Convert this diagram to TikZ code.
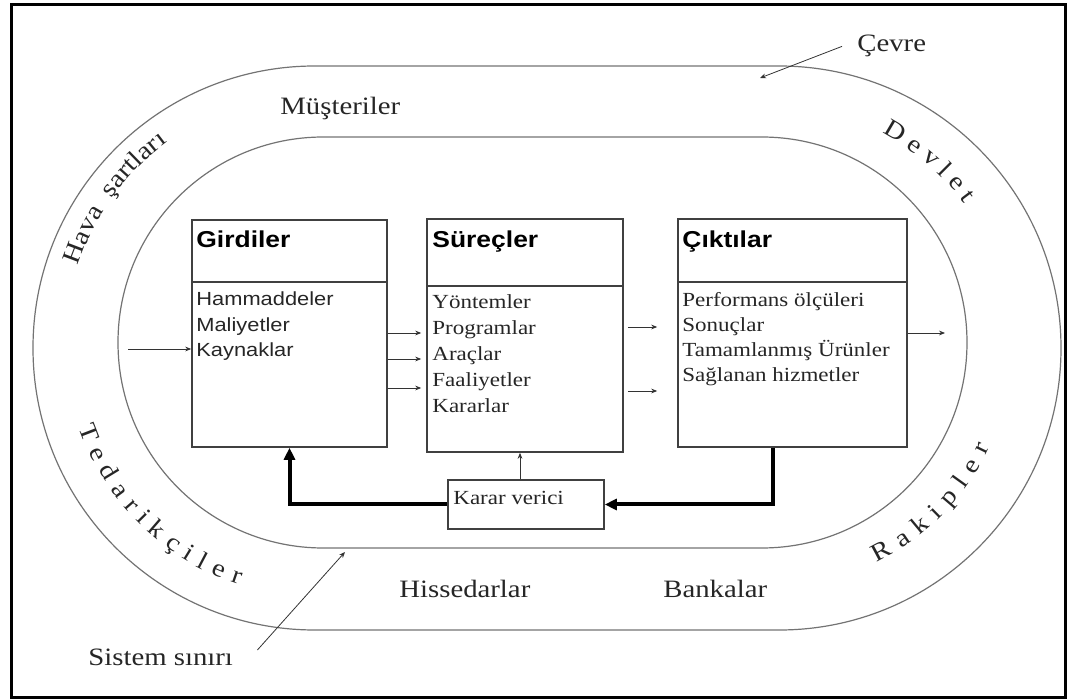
\documentclass[tikz,border=0pt]{standalone}
\usepackage{fontspec}
\setmainfont{Liberation Serif}[FakeStretch=1.15]
\setsansfont{Liberation Sans}[FakeStretch=1.15]
\usetikzlibrary{arrows.meta,decorations.text}

\newcommand{\yayfont}{\fontsize{12.5}{15}\selectfont\color{black!85}}

\tikzstyle{cerceve} = [draw=black, line width=1.5pt]
\tikzstyle{oval} = [draw=black!55, line width=0.6pt]
\tikzstyle{kutu} = [draw=black!75, line width=0.8pt, rectangle, inner sep=0pt]
\tikzstyle{cizgi} = [draw=black!75, line width=0.8pt]
\tikzstyle{baslik} = [font=\sffamily\bfseries\fontsize{11.5}{13}\selectfont, inner sep=0pt, anchor=base west]
\tikzstyle{madde} = [font=\fontsize{10}{12}\selectfont, text=black!85, inner sep=0pt, anchor=base west]
\tikzstyle{smadde} = [font=\sffamily\fontsize{9.5}{12}\selectfont, text=black!85, inner sep=0pt, anchor=base west]
\tikzstyle{etiket} = [font=\fontsize{12.5}{15}\selectfont, text=black!85, inner sep=0pt, anchor=base west]
\tikzstyle{ince} = [draw=black!80, line width=0.4pt, -{Stealth[length=3pt,width=2.4pt]}]
\tikzstyle{kalin} = [draw=black, line width=2pt, -{Triangle[length=6pt,width=5.5pt]}]
\tikzstyle{yay} = [decorate, decoration={text along path}]

\begin{document}
\begin{tikzpicture}[x=0.5pt,y=-0.5pt]
\useasboundingbox (0,0) rectangle (1067,700);
\draw[cerceve] (11,5) rectangle (1065,697);
\draw[oval, rounded corners=140.9pt] (33,66) rectangle (1061,630);
\draw[oval, rounded corners=102.6pt] (118,137) rectangle (967,548);

\node[kutu, minimum width=97.5pt, minimum height=113.5pt] (gir) at (289.5,333.5) {};
\node[kutu, minimum width=98pt, minimum height=116.5pt] (sur) at (525,335.5) {};
\node[kutu, minimum width=114.5pt, minimum height=114pt] (cik) at (792.5,333) {};
\node[kutu, minimum width=78pt, minimum height=24.5pt] (karar) at (526,504.5) {};

\draw[cizgi] (gir.west |- 0,282) -- (gir.east |- 0,282);
\draw[cizgi] (sur.west |- 0,286) -- (sur.east |- 0,286);
\draw[cizgi] (cik.west |- 0,282) -- (cik.east |- 0,282);

\node[baslik] (girB) at (196,248) {Girdiler};
\node[baslik] (surB) at (432,248) {Süreçler};
\node[baslik] (cikB) at (682,248) {Çıktılar};

\foreach \t [count=\i] in {Hammaddeler,Maliyetler,Kaynaklar}
  \node[smadde] (gir\i) at (196,{306+25.5*(\i-1)}) {\t};
\foreach \t [count=\i] in {Yöntemler,Programlar,Araçlar,Faaliyetler,Kararlar}
  \node[madde] (sur\i) at (432,{309+25.8*(\i-1)}) {\t};
\foreach \t [count=\i] in {Performans ölçüleri,Sonuçlar,Tamamlanmış Ürünler,Sağlanan hizmetler}
  \node[madde] (cik\i) at (682,{307+25*(\i-1)}) {\t};
\node[madde] (kararT) at (453,505) {Karar verici};

\node[etiket] (musteri) at (280,115) {Müşteriler};
\node[etiket] (hisse) at (399,597) {Hissedarlar};
\node[etiket] (banka) at (663,597) {Bankalar};
\node[etiket] (sistem) at (88,665) {Sistem sınırı};
\node[etiket] (cevre) at (857,52) {Çevre};

\coordinate (giris) at (128,349);
\coordinate (cikis) at (945,333);
\coordinate (sinir) at (345,552);
\coordinate (cevrenokta) at (760,78);
\coordinate (solM) at (317,345);
\coordinate (sagM) at (770,345);

\draw[ince] (giris) -- (gir.west |- giris);
\foreach \y in {333,359,388}
  \draw[ince, shorten >=2.5pt] (gir.east |- 0,\y) -- (sur.west |- 0,\y);
\foreach \y in {327,391}
  \draw[ince, shorten <=2pt, shorten >=10pt] (sur.east |- 0,\y) -- (cik.west |- 0,\y);
\draw[ince] (cik.east |- cikis) -- (cikis);
\draw[ince] (karar.north -| 520,0) -- (sur.south -| 520,0);
\draw[kalin] (karar.west) -| (gir.south);
\draw[kalin] (cik.south -| 773,0) |- (karar.east);
\draw[ince] ([xshift=12pt,yshift=-1pt]sistem.north east) -- (sinir);
\draw[ince] ([xshift=-7.5pt]cevre.west) -- (cevrenokta);

\path[yay, decoration={text={|\yayfont|Hava{\ }{\ }şartları}, text align=center}]
  ([shift={(163:126pt)}]solM) arc[start angle=163, end angle=125, radius=126pt];
\path[yay, decoration={text={|\yayfont|Tedarikçiler}, text align=fit to path}]
  ([shift={(199:126pt)}]solM) arc[start angle=199, end angle=252, radius=126pt];
\path[yay, decoration={text={|\yayfont|Devlet}, text align=fit to path}]
  ([shift={(62:120pt)}]sagM) arc[start angle=62, end angle=36, radius=120pt];
\path[yay, decoration={text={|\yayfont|Rakipler}, text align=fit to path}]
  ([shift={(-64:121pt)}]sagM) arc[start angle=-64, end angle=-25, radius=121pt];
\end{tikzpicture}
\end{document}
